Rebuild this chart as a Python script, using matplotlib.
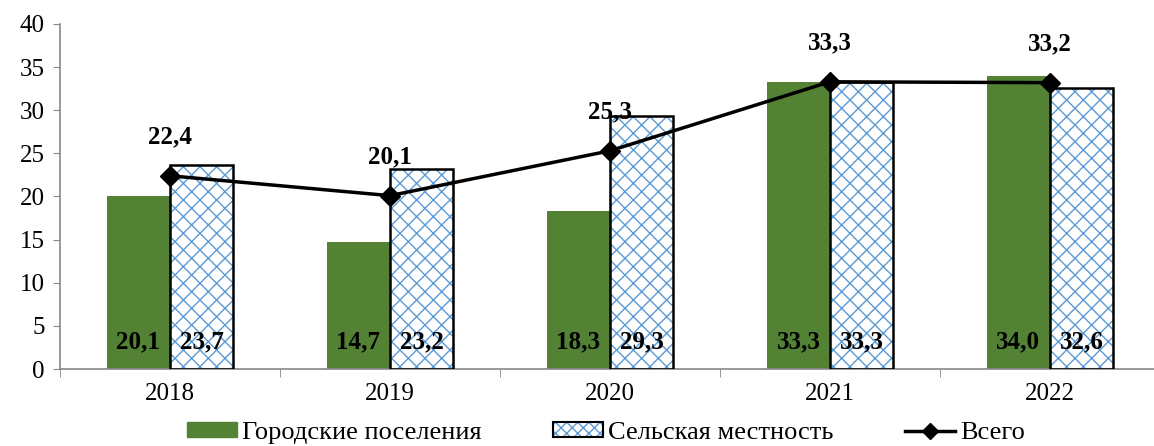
import matplotlib
matplotlib.use("Agg")
import matplotlib.pyplot as plt
from matplotlib.patches import Patch
from matplotlib.lines import Line2D
from matplotlib.legend_handler import HandlerTuple
import numpy as np

years = ["2018", "2019", "2020", "2021", "2022"]
urban = [20.1, 14.7, 18.3, 33.3, 34.0]
rural = [23.7, 23.2, 29.3, 33.3, 32.6]
total = [22.4, 20.1, 25.3, 33.3, 33.2]

plt.rcParams['font.family'] = ['Liberation Serif', 'DejaVu Serif']
plt.rcParams['hatch.linewidth'] = 1.0

W, H = 1154, 446
fig = plt.figure(figsize=(W/100, H/100), dpi=100)
ax = fig.add_axes([60/W, (H-369)/H, 1100/W, 345/H])

x = np.arange(len(years))
bw = 0.287
green = '#548235'
blue = '#5b9bd5'

ax.bar(x - bw/2, urban, bw, color=green, zorder=2)
ax.bar(x + bw/2, rural, bw, facecolor='white', edgecolor=blue, hatch='xx', linewidth=0, zorder=2)
ax.bar(x + bw/2, rural, bw, facecolor='none', edgecolor='black', linewidth=1.8, zorder=3)
ax.plot(x, total, color='black', lw=2.5, marker='D', ms=10, mfc='black', mec='black', zorder=4)

def fmt(v):
    return f"{v:.1f}".replace('.', ',')

for i in range(len(years)):
    ax.text(x[i] - bw/2, 3.1, fmt(urban[i]), ha='center', va='center',
            fontsize=18, fontweight='bold', zorder=5)
    ax.text(x[i] + bw/2, 3.1, fmt(rural[i]), ha='center', va='center',
            fontsize=18, fontweight='bold', zorder=5)
    ax.annotate(fmt(total[i]), (x[i], total[i]), xytext=(0, 28), textcoords='offset points',
                ha='center', va='center', fontsize=18, fontweight='bold', zorder=5)

ax.set_xlim(-0.5, 4.5)
ax.set_ylim(0, 40)
ax.set_yticks(range(0, 41, 5))
ax.set_xticks(x)
ax.set_xticklabels(years)
ax.set_xticks(np.arange(-0.5, 5, 1), minor=True)
ax.tick_params(axis='x', which='major', length=0, labelsize=18, pad=10)
ax.tick_params(axis='x', which='minor', length=6, color='#888888')
ax.tick_params(axis='y', length=5, color='#888888', labelsize=18, pad=6)
for s in ['top', 'right']:
    ax.spines[s].set_visible(False)
for s in ['left', 'bottom']:
    ax.spines[s].set_color('#888888')
    ax.spines[s].set_linewidth(1.2)

h_urban = Patch(facecolor=green, edgecolor=green)
h_rural = (Patch(facecolor='white', edgecolor=blue, hatch='xxx', linewidth=0),
           Patch(facecolor='none', edgecolor='black', linewidth=1.5))
h_total = Line2D([0], [0], color='black', lw=2.5, marker='D', ms=8)
leg = fig.legend([h_urban, h_rural, h_total],
                 ['Городские поселения', 'Сельская местность', 'Всего'],
                 handler_map={tuple: HandlerTuple(ndivide=1, pad=0)},
                 loc='center', bbox_to_anchor=(606/W, 1 - 433/H), ncol=3,
                 frameon=False, fontsize=19, handlelength=1.9, handleheight=0.5,
                 columnspacing=2.7, handletextpad=0.2, borderpad=0)

fig.savefig('out.png', dpi=100)
